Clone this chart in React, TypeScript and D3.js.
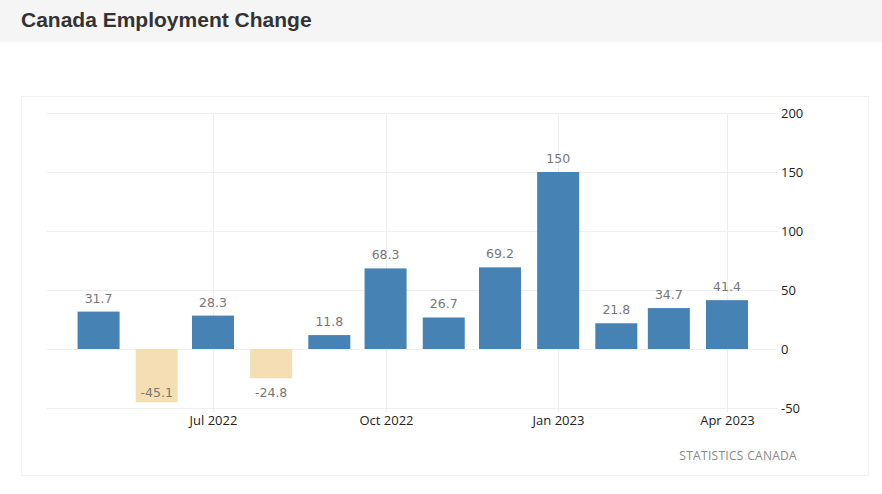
import React from "react";
import * as d3 from "d3";

const months = ["2022-05","2022-06","2022-07","2022-08","2022-09","2022-10","2022-11","2022-12","2023-01","2023-02","2023-03","2023-04"];
const values = [31.7, -45.1, 28.3, -24.8, 11.8, 68.3, 26.7, 69.2, 150, 21.8, 34.7, 41.4];
const yTicks = [-50, 0, 50, 100, 150, 200];
const xTickDates = ["2022-07","2022-10","2023-01","2023-04"];
const xTickLabels = ["Jul 2022","Oct 2022","Jan 2023","Apr 2023"];

const W = 882, H = 494;
const parse = d3.timeParse("%Y-%m");

export default function App() {
  const x0 = parse("2022-07")!, x1 = parse("2023-04")!;
  const x = d3.scaleTime().domain([x0, x1]).range([213, 727]);
  const y = d3.scaleLinear().domain([-50, 200]).range([408, 113]);
  const barW = 42;
  const gridL = 47, gridR = 778;
  const labelFont = "'DejaVu Sans', Verdana, sans-serif";
  const tickFont = "'Open Sans', 'Noto Sans', sans-serif";
  return (
    <div style={{ position: "absolute", left: 0, top: 0 }}>
      <svg width={W} height={H} style={{ display: "block" }}>
        <rect x={0} y={0} width={W} height={H} fill="#fff" />
        <rect x={0} y={0} width={W} height={42} fill="#f5f5f5" />
        <text x={21} y={27} fontFamily="'Liberation Sans', Arial, sans-serif" fontWeight="bold" fontSize={21} fill="#333">Canada Employment Change</text>
        <rect x={21.5} y={96.5} width={847} height={379} fill="none" stroke="#f2f2f2" />
        {yTicks.map(t => (
          <g key={t}>
            <line x1={gridL} x2={gridR} y1={Math.round(y(t)) + 0.5} y2={Math.round(y(t)) + 0.5} stroke="#eeeeee" />
            <text x={781} y={y(t) + 4.5} fontFamily={tickFont} fontSize={13} fill="#222">{t}</text>
          </g>
        ))}
        {xTickDates.map((d, i) => {
          const px = Math.round(x(parse(d)!)) + 0.5;
          return (
            <g key={d}>
              <line x1={px} x2={px} y1={113} y2={412} stroke="#eeeeee" />
              <text x={px} y={425} textAnchor="middle" fontFamily={tickFont} fontSize={13} fill="#222">{xTickLabels[i]}</text>
            </g>
          );
        })}
        {months.map((m, i) => {
          const v = values[i];
          const cx = x(parse(m)!);
          const top = y(Math.max(0, v));
          const bot = y(Math.min(0, v));
          return (
            <rect key={m} x={cx - barW / 2} y={top} width={barW} height={bot - top} fill={v >= 0 ? "#4682b4" : "#f5deb3"} />
          );
        })}
        {months.map((m, i) => {
          const v = values[i];
          const cx = x(parse(m)!);
          const ly = v >= 0 ? y(v) - 9 : Math.min(y(v) + 19, 397);
          return (
            <text key={m} x={cx} y={ly} textAnchor="middle" fontFamily={labelFont} fontSize={12.5} fill="#777">{String(v)}</text>
          );
        })}
        <text x={797} y={460} textAnchor="end" fontFamily={tickFont} fontSize={12} fill="#888" letterSpacing={0.3}>STATISTICS CANADA</text>
      </svg>
    </div>
  );
}
